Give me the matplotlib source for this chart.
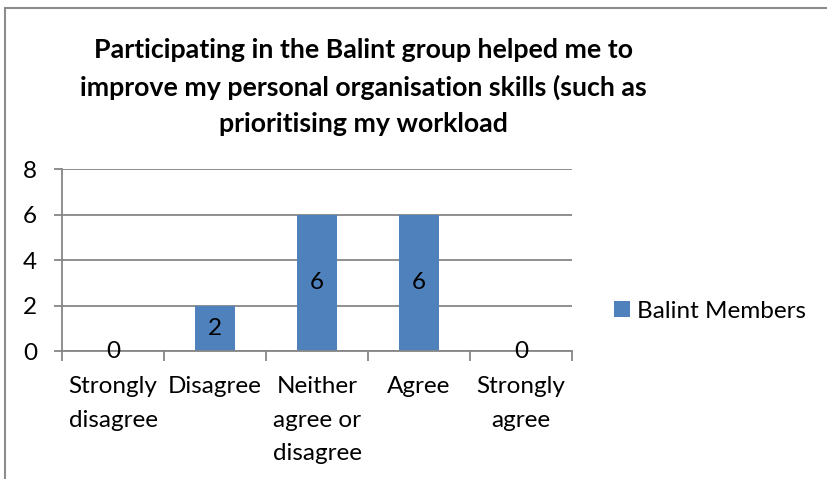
import matplotlib
matplotlib.use("Agg")
import matplotlib.pyplot as plt
from matplotlib.patches import Rectangle

categories = ["Strongly\ndisagree", "Disagree", "Neither\nagree or\ndisagree", "Agree", "Strongly\nagree"]
values = [0, 2, 6, 6, 0]
series_name = "Balint Members"
title = ("Participating in the Balint group helped me to\n"
         "improve my personal organisation skills (such as\n"
         "prioritising my workload")

plt.rcParams["font.family"] = ["Lato", "DejaVu Sans"]
BAR = "#4F81BD"
GRID = "#868686"
FS = 17.5

fig = plt.figure(figsize=(8.27, 4.79), dpi=100)
ax = fig.add_axes([62 / 827, 1 - 351 / 479, (572 - 62) / 827, (351 - 169) / 479])

x = range(len(categories))
bars = ax.bar(x, values, width=0.4, color=BAR, label=series_name, zorder=2)
for i, v in enumerate(values):
    ax.text(i, v / 2, str(v), ha="center", va="center", fontsize=FS, color="black", zorder=3)

ax.set_xlim(-0.5, len(categories) - 0.5)
ax.set_ylim(0, 8)
ax.set_yticks([0, 2, 4, 6, 8])
ax.yaxis.grid(True, color=GRID, linewidth=1.3, zorder=0)
ax.set_axisbelow(True)

ax.set_xticks(list(x))
ax.set_xticklabels(categories, fontsize=FS, linespacing=1.75)
ax.set_xticks([i - 0.5 for i in range(len(categories) + 1)], minor=True)
ax.tick_params(axis="x", which="major", length=0, pad=18)
ax.tick_params(axis="x", which="minor", length=7, width=1.3, color=GRID, direction="out")
ax.tick_params(axis="y", length=6, width=1.3, color=GRID, labelsize=FS, pad=12)

for side in ["top", "right"]:
    ax.spines[side].set_visible(False)
for side in ["left", "bottom"]:
    ax.spines[side].set_color(GRID)
    ax.spines[side].set_linewidth(1.3)

fig.text(363 / 827, 1 - 87 / 479, title, ha="center", va="center", fontsize=19.3,
         fontweight="bold", linespacing=1.62)

fig.legend(handles=[bars], labels=[series_name], loc="center left",
           bbox_to_anchor=(592 / 827, 1 - 311 / 479), frameon=False, fontsize=FS,
           handlelength=0.65, handleheight=0.65, handletextpad=0.3)

fig.patches.append(Rectangle((5 / 827, -0.1), 1.2, 1 - 8 / 479 + 0.1, transform=fig.transFigure,
                             fill=False, edgecolor="#8c8c8c", linewidth=1.5))

fig.savefig("out.png", dpi=100)
